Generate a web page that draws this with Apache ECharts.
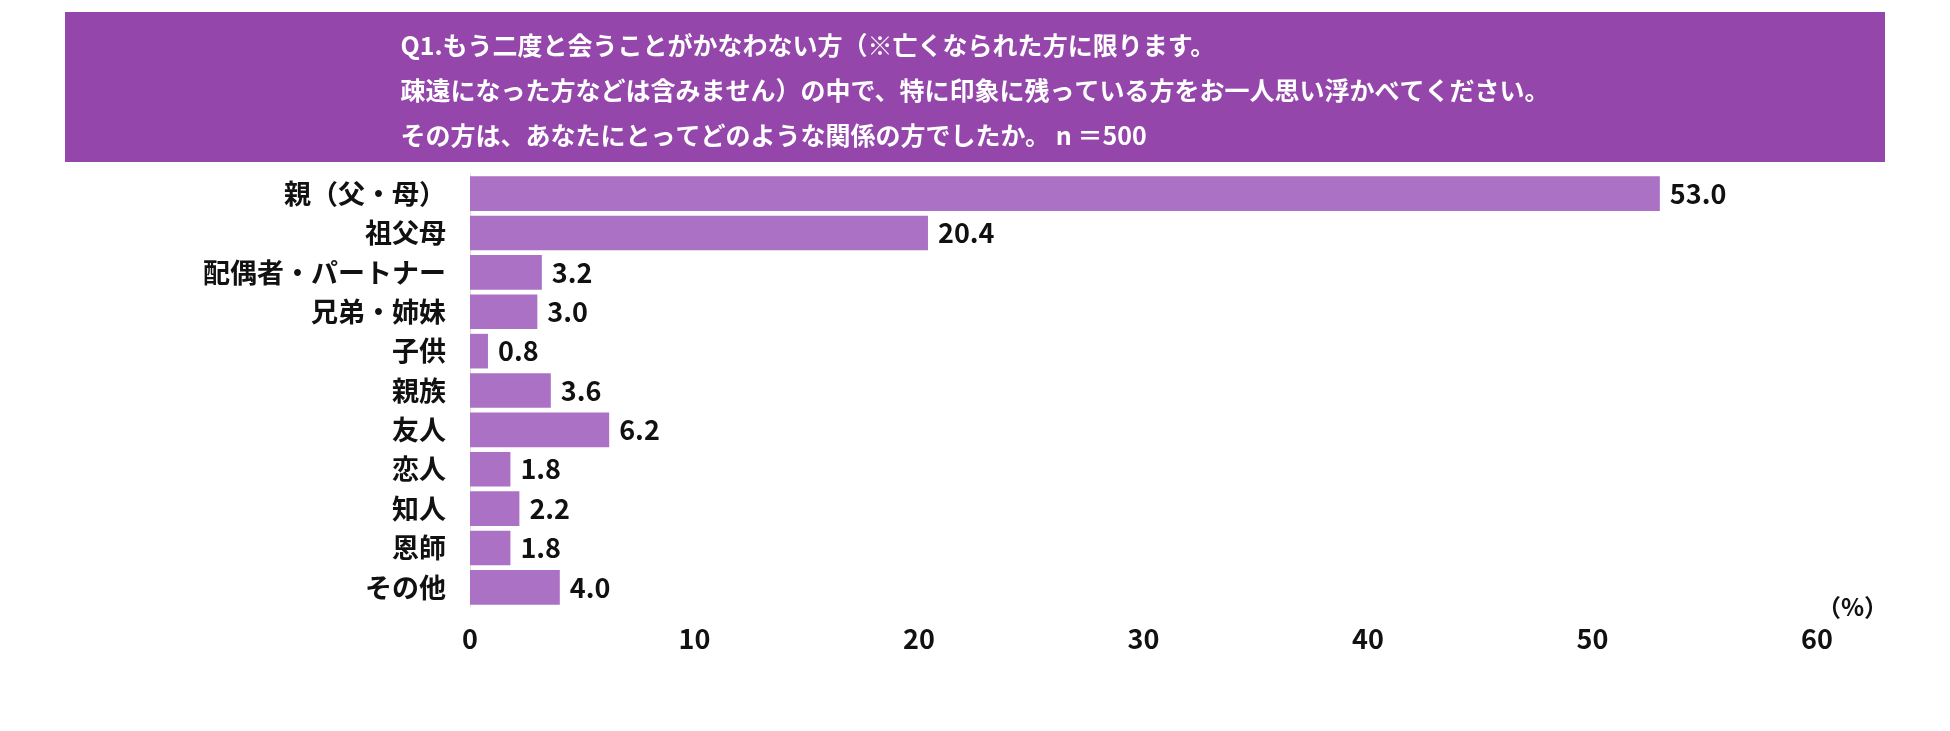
<!DOCTYPE html>
<html><head><meta charset="utf-8">
<script src="https://cdn.jsdelivr.net/npm/echarts@6/dist/echarts.min.js"></script>
<style>html,body{margin:0;padding:0;background:#fff}#c{width:1950px;height:731px}</style>
</head><body><div id="c"></div>
<script>
const categories = ['親（父・母）','祖父母','配偶者・パートナー','兄弟・姉妹','子供','親族','友人','恋人','知人','恩師','その他'];
const values = [53.0,20.4,3.2,3.0,0.8,3.6,6.2,1.8,2.2,1.8,4.0];
const titleText = 'Q1.もう二度と会うことがかなわない方（※亡くなられた方に限ります。\n疎遠になった方などは含みません）の中で、特に印象に残っている方をお一人思い浮かべてください。\nその方は、あなたにとってどのような関係の方でしたか。 n ＝500';
const font = '"Noto Sans CJK JP", sans-serif';
const chart = echarts.init(document.getElementById('c'));
chart.setOption({
  animation:false,
  graphic:[{type:'rect',shape:{x:65,y:12,width:1820,height:150},style:{fill:'#9446ab'},z:-1}],
  title:{text:titleText,left:'center',top:18,textAlign:'left',
    textStyle:{color:'#fff',fontSize:25,fontWeight:'bold',lineHeight:45,fontFamily:font}},
  grid:{left:470,right:133,top:174,bottom:124},
  xAxis:{type:'value',min:0,max:60,interval:10,position:'bottom',
    name:'（%）',nameLocation:'end',nameGap:0,
    nameTextStyle:{fontSize:24,fontWeight:'bold',color:'#111',fontFamily:font,padding:[95,0,0,0],align:'left'},
    axisLine:{show:false},axisTick:{show:false},splitLine:{show:false},
    axisLabel:{fontSize:27,fontWeight:'bold',color:'#111',fontFamily:font,margin:18}},
  yAxis:{type:'category',data:categories,inverse:true,
    axisLine:{show:true,lineStyle:{color:'#ddd'}},axisTick:{show:false},
    axisLabel:{fontSize:27,fontWeight:'bold',color:'#111',fontFamily:font,margin:24}},
  series:[{type:'bar',data:values,barCategoryGap:'12%',
    itemStyle:{color:'#ab71c4'},
    label:{show:true,position:'right',formatter:p=>p.value.toFixed(1),fontSize:27,fontWeight:'bold',color:'#111',fontFamily:font,distance:10}}]
});
</script></body></html>
